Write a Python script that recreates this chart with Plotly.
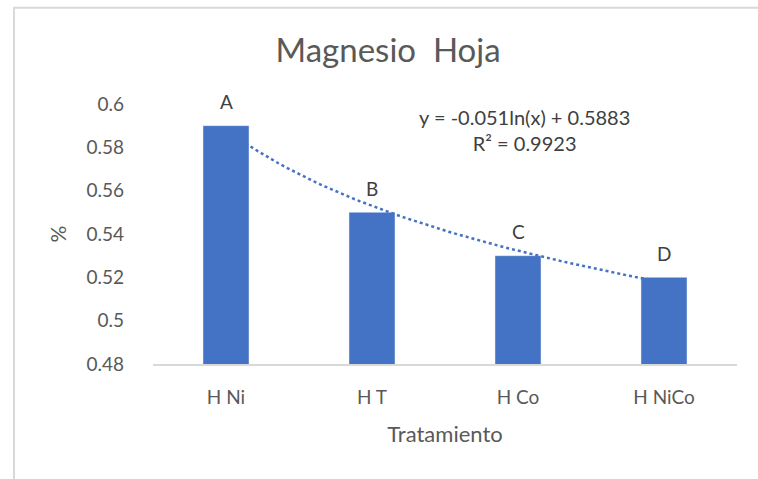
import numpy as np
import plotly.graph_objects as go

# data
categories = ["H Ni", "H T", "H Co", "H NiCo"]
magnesio = [0.59, 0.55, 0.53, 0.52]
letters = ["A", "B", "C", "D"]

# Excel log trendline shown on the chart
trend_a = -0.051
trend_b = 0.5883
trend_r2 = 0.9923

BLUE = "#4472C4"
GREY = "#595959"
FONT = "Lato, 'Open Sans', sans-serif"

pos = np.arange(1, len(categories) + 1)
tx = np.linspace(pos[0], pos[-1], 60)
ty = trend_a * np.log(tx) + trend_b

fig = go.Figure()

fig.add_trace(
    go.Bar(
        x=pos,
        y=magnesio,
        marker=dict(color=BLUE),
        width=0.315,
        showlegend=False,
    )
)

fig.add_trace(
    go.Scatter(
        x=tx,
        y=ty,
        mode="lines",
        line=dict(color=BLUE, width=2.5, dash="dot"),
        showlegend=False,
        hoverinfo="skip",
    )
)

# significance letters above each bar
for p, v, l in zip(pos, magnesio, letters):
    fig.add_annotation(
        x=p, y=v, text=l, showarrow=False, yshift=24,
        font=dict(size=19, color="#404040", family=FONT),
    )

fig.add_annotation(
    x=0.636, y=0.9, xref="paper", yref="paper",
    text=f"y = {trend_a}ln(x) + {trend_b}<br>R² = {trend_r2}",
    showarrow=False, align="center", yanchor="middle",
    font=dict(size=20, color="#404040", family=FONT),
)

# chart-area border (image is cropped from a bigger Excel chart)
fig.add_shape(
    type="rect", xref="paper", yref="paper",
    x0=-0.238, x1=1.06, y0=-0.46, y1=1.37,
    line=dict(color="#D9D9D9", width=2), fillcolor="rgba(0,0,0,0)",
    layer="below",
)

fig.update_layout(
    width=758,
    height=479,
    margin=dict(l=153, r=21, t=104, b=115),
    plot_bgcolor="white",
    paper_bgcolor="white",
    font=dict(family=FONT, color=GREY, size=18),
    title=dict(
        text="Magnesio\u00a0 Hoja",
        x=0.512, xanchor="center",
        y=0.895, yanchor="middle",
        font=dict(size=33, color=GREY, family=FONT),
    ),
    bargap=0.685,
)

fig.update_xaxes(
    range=[0.5, 4.5],
    tickvals=pos,
    ticktext=categories,
    showgrid=False,
    zeroline=False,
    showline=True,
    linecolor="#D9D9D9",
    linewidth=2,
    ticks="",
    ticklabelstandoff=15,
    tickfont=dict(size=19, color=GREY),
    title=dict(text="Tratamiento", font=dict(size=22, color=GREY), standoff=20),
)

fig.update_yaxes(
    range=[0.48, 0.6],
    dtick=0.02,
    tick0=0.48,
    showgrid=False,
    zeroline=False,
    showline=False,
    ticks="",
    ticklabelstandoff=28,
    tickfont=dict(size=19, color=GREY),
    title=dict(text="%", font=dict(size=21, color=GREY), standoff=14),
)

fig.write_html(
    "out.html",
    config={"displayModeBar": False},
    post_script="document.body.style.margin='0';",
)
